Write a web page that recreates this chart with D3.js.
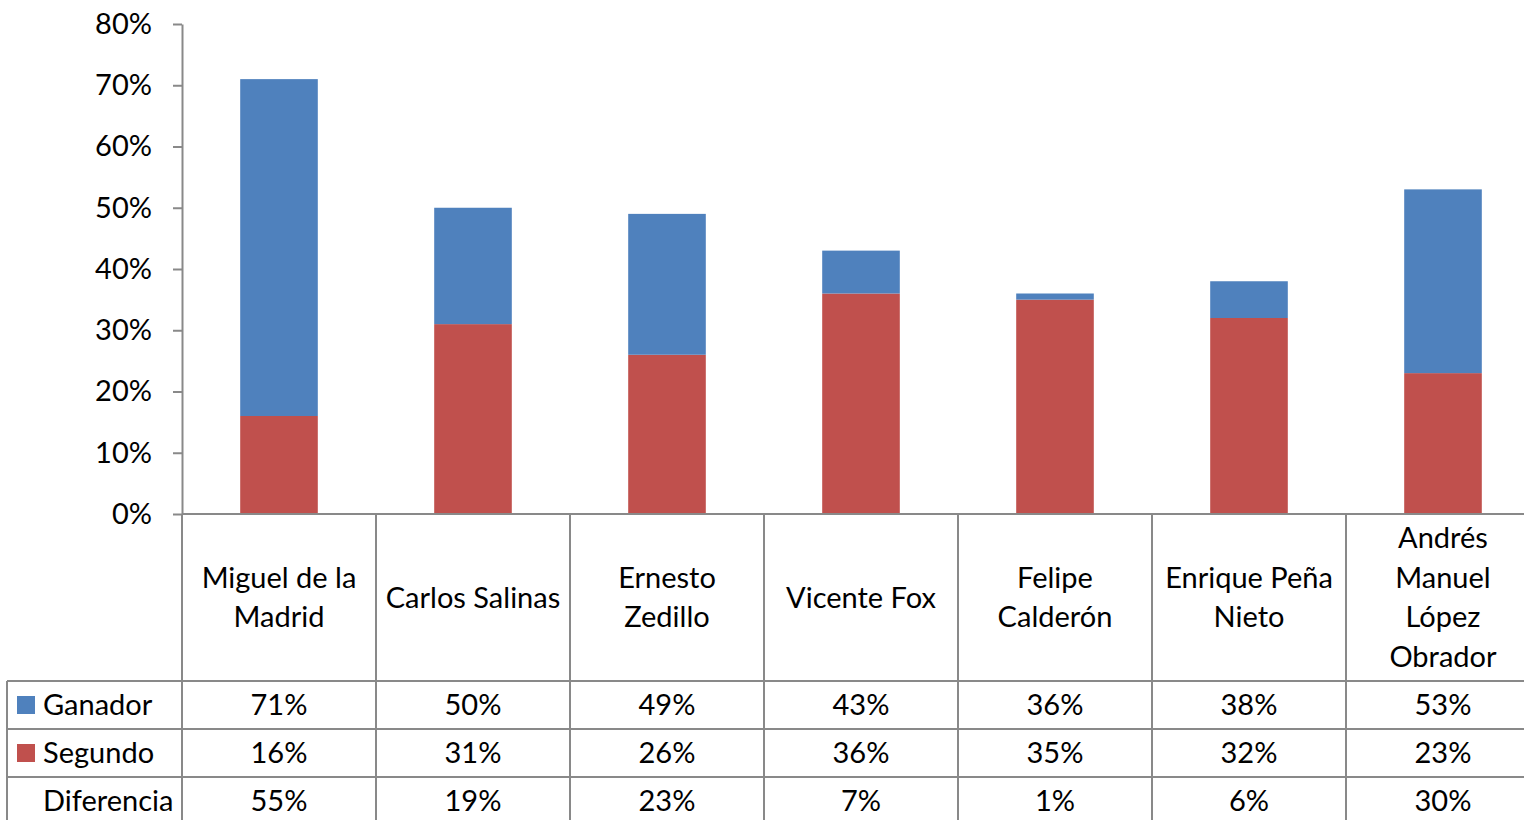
<!DOCTYPE html>
<html><head><meta charset="utf-8">
<script src="https://cdn.jsdelivr.net/npm/d3@7"></script>
<style>
html,body{margin:0;padding:0;background:#fff;overflow:hidden;}
text{font-family:Lato,"Open Sans",sans-serif;fill:#000;}
</style></head>
<body>
<svg id="chart" width="1524" height="820"></svg>
<script>
const categories = ["Miguel de la Madrid","Carlos Salinas","Ernesto Zedillo","Vicente Fox","Felipe Calderón","Enrique Peña Nieto","Andrés Manuel López Obrador"];
const categoryLines = [["Miguel de la","Madrid"],["Carlos Salinas"],["Ernesto","Zedillo"],["Vicente Fox"],["Felipe","Calderón"],["Enrique Peña","Nieto"],["Andrés","Manuel","López","Obrador"]];
const ganador = [71,50,49,43,36,38,53];
const segundo = [16,31,26,36,35,32,23];
const diferencia = [55,19,23,7,1,6,30];
const yTicks = [0,10,20,30,40,50,60,70,80];
const seriesNames = ["Ganador","Segundo","Diferencia"];

const BLUE = "#4F81BD", RED = "#C0504D", GRID = "#898989";
const FS = 29;
const svg = d3.select("#chart");

const x = d3.scaleBand().domain(categories).range([182, 182 + 7*194]).padding(0);
const y = d3.scaleLinear().domain([0, 80]).range([514, 24]);
const bw = x.bandwidth();
const barW = bw / 2.5;

// bars: red (segundo) and blue (diferencia) stacked
const g = svg.append("g");
categories.forEach((c, i) => {
  g.append("rect").attr("x", x(c) + (bw - barW)/2).attr("width", barW)
    .attr("y", y(segundo[i])).attr("height", y(0) - y(segundo[i])).attr("fill", RED);
  g.append("rect").attr("x", x(c) + (bw - barW)/2).attr("width", barW)
    .attr("y", y(segundo[i] + diferencia[i])).attr("height", y(segundo[i]) - y(segundo[i] + diferencia[i])).attr("fill", BLUE);
});

// y axis
const ax = svg.append("g").attr("transform", "translate(182,0)")
  .call(d3.axisLeft(y).tickValues(yTicks).tickFormat(d => d + "%").tickSize(9).tickSizeOuter(0).tickPadding(21));
ax.select(".domain").attr("stroke", GRID).attr("stroke-width", 2);
ax.selectAll(".tick line").attr("stroke", GRID).attr("stroke-width", 2);
ax.selectAll(".tick text").style("font-size", FS + "px").style("font-family", "Lato,'Open Sans',sans-serif").attr("fill", "#000");

// data table
const T = svg.append("g");
const rowTops = [681, 729, 777, 825];
const right = 1540;
T.append("line").attr("x1", 182).attr("x2", right).attr("y1", 514).attr("y2", 514).attr("stroke", GRID).attr("stroke-width", 2);
rowTops.slice(0,3).forEach(r => T.append("line").attr("x1", 7).attr("x2", right).attr("y1", r).attr("y2", r).attr("stroke", GRID).attr("stroke-width", 2));
d3.range(8).forEach(k => {
  const xx = 182 + k*bw;
  T.append("line").attr("x1", xx).attr("x2", xx).attr("y1", 514).attr("y2", 825).attr("stroke", GRID).attr("stroke-width", 2);
});
T.append("line").attr("x1", 7).attr("x2", 7).attr("y1", 681).attr("y2", 825).attr("stroke", GRID).attr("stroke-width", 2);

// header labels
const lineH = 39.5;
categories.forEach((c, i) => {
  const t = T.append("text").attr("text-anchor", "middle").style("font-size", FS + "px");
  const lines = categoryLines[i];
  const cy = (514 + 681)/2;
  const y0 = cy - (lines.length - 1) * lineH / 2;
  lines.forEach((l, j) => t.append("tspan").attr("x", x(c) + bw/2).attr("y", y0 + j*lineH).attr("dy", "0.35em").text(l));
});

// row labels and values
const rows = [ganador, segundo, diferencia];
const keyColors = [BLUE, RED, null];
rows.forEach((vals, r) => {
  const cy = (rowTops[r] + rowTops[r+1]) / 2;
  if (keyColors[r]) T.append("rect").attr("x", 17).attr("y", cy - 9).attr("width", 18).attr("height", 18).attr("fill", keyColors[r]);
  T.append("text").attr("x", 43).attr("y", cy).attr("dy", "0.35em").style("font-size", FS + "px").text(seriesNames[r]);
  vals.forEach((v, i) => T.append("text").attr("x", x(categories[i]) + bw/2).attr("y", cy).attr("dy", "0.35em")
    .attr("text-anchor", "middle").style("font-size", FS + "px").text(v + "%"));
});
</script>
</body></html>
